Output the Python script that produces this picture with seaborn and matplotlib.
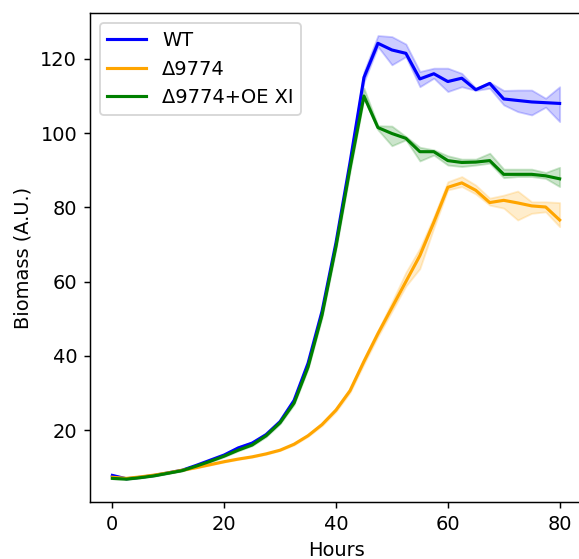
import numpy as np
import pandas as pd
import matplotlib
matplotlib.use("Agg")
import matplotlib.pyplot as plt
import seaborn as sns

hours = [0, 2.5, 5, 7.5, 10, 12.5, 15, 17.5, 20, 22.5, 25, 27.5, 30, 32.5, 35, 37.5,
         40, 42.5, 45, 47.5, 50, 52.5, 55, 57.5, 60, 62.5, 65, 67.5, 70, 72.5, 75, 77.5, 80]

strains = ["WT", "Δ9774", "Δ9774+OE XI"]

wt_mid = [7.8, 6.9, 7.3, 7.8, 8.5, 9.2, 10.5, 11.9, 13.3, 15.2, 16.5, 18.8, 22.3, 28.0, 38.0, 52.0,
          70.5, 92.0, 115.0, 124.2, 122.4, 121.5, 114.6, 116.0, 113.9, 114.8, 111.7, 113.4, 109.2, 108.8, 108.4, 108.2, 108.0]
wt_lo = [7.6, 6.8, 7.2, 7.7, 8.4, 9.1, 10.3, 11.7, 13.1, 14.9, 16.2, 18.5, 22.0, 27.6, 37.5, 51.3,
         69.7, 91.0, 113.8, 123.3, 118.4, 120.6, 112.5, 114.8, 111.2, 112.5, 111.5, 112.1, 107.6, 105.8, 104.9, 107.0, 103.1]
wt_hi = [8.0, 7.0, 7.4, 7.9, 8.6, 9.3, 10.7, 12.1, 13.5, 15.5, 16.8, 19.1, 22.6, 28.4, 38.5, 52.7,
         71.3, 93.0, 116.5, 126.3, 126.0, 124.0, 116.6, 117.5, 117.5, 116.1, 112.1, 113.7, 111.5, 111.6, 111.6, 109.4, 112.5]

d_mid = [7.3, 7.0, 7.4, 7.9, 8.5, 9.2, 9.9, 10.7, 11.5, 12.2, 12.8, 13.6, 14.6, 16.2, 18.5, 21.5,
         25.4, 30.6, 38.5, 46.0, 53.0, 60.0, 67.0, 76.0, 85.4, 86.6, 84.6, 81.3, 81.9, 81.2, 80.4, 80.1, 76.6]
d_lo = [7.1, 6.9, 7.3, 7.8, 8.4, 9.1, 9.8, 10.6, 11.4, 12.1, 12.7, 13.5, 14.5, 16.0, 18.3, 21.2,
        25.0, 30.1, 37.8, 45.2, 52.0, 58.8, 63.5, 74.5, 84.7, 85.6, 83.6, 80.6, 79.8, 76.6, 78.4, 78.8, 74.8]
d_hi = [7.5, 7.1, 7.5, 8.0, 8.6, 9.3, 10.0, 10.8, 11.6, 12.3, 12.9, 13.7, 14.7, 16.4, 18.7, 21.8,
        25.8, 31.1, 39.2, 46.8, 54.5, 62.5, 69.0, 77.5, 86.9, 88.3, 86.0, 82.5, 83.3, 84.4, 81.5, 81.5, 81.3]

oe_mid = [7.0, 6.8, 7.2, 7.7, 8.4, 9.1, 10.3, 11.6, 13.0, 14.6, 16.0, 18.5, 22.0, 27.3, 37.0, 51.0,
          69.5, 90.5, 110.0, 101.5, 99.9, 98.6, 95.0, 95.0, 92.6, 92.1, 92.2, 92.6, 88.9, 88.9, 88.9, 88.5, 87.7]
oe_lo = [6.9, 6.7, 7.1, 7.6, 8.3, 9.0, 10.1, 11.4, 12.8, 14.4, 15.8, 18.2, 21.7, 26.9, 36.5, 50.3,
         68.7, 89.5, 109.4, 100.9, 96.6, 98.2, 92.5, 94.1, 91.4, 91.0, 91.4, 91.9, 88.0, 88.3, 88.3, 87.8, 85.6]
oe_hi = [7.1, 6.9, 7.3, 7.8, 8.5, 9.2, 10.5, 11.8, 13.2, 14.8, 16.2, 18.8, 22.3, 27.7, 37.5, 51.7,
         70.3, 91.5, 112.1, 102.0, 101.9, 99.1, 96.2, 95.5, 93.9, 93.0, 93.0, 94.6, 90.3, 90.3, 90.3, 89.4, 90.8]

colors = ["blue", "orange", "green"]

rows = []
for name, series in zip(strains, [(wt_lo, wt_mid, wt_hi), (d_lo, d_mid, d_hi), (oe_lo, oe_mid, oe_hi)]):
    for rep in series:
        for h, v in zip(hours, rep):
            rows.append({"Hours": h, "Biomass": v, "Strain": name})
df = pd.DataFrame(rows)

plt.rcParams["font.family"] = ["DejaVu Sans"]
plt.rcParams["font.size"] = 10.6

dpi = 132
fig = plt.figure(figsize=(579 / dpi, 559 / dpi), dpi=dpi)
ax = fig.add_axes([90 / 579, 1 - 501.7 / 559, (582 - 90) / 579, (501.7 - 13.3) / 559])

sns.lineplot(data=df, x="Hours", y="Biomass", hue="Strain", hue_order=strains,
             palette=colors, estimator="median", errorbar=("pi", 100),
             linewidth=1.7, err_kws={"alpha": 0.2}, ax=ax)

handles, labels = ax.get_legend_handles_labels()
ax.legend(handles, labels, loc="upper left", fontsize=10.6)

ax.set_xlabel("Hours")
ax.set_ylabel("Biomass (A.U.)")
ax.set_xticks([0, 20, 40, 60, 80])
ax.set_yticks([20, 40, 60, 80, 100, 120])

fig.savefig("out.png", dpi=dpi)
